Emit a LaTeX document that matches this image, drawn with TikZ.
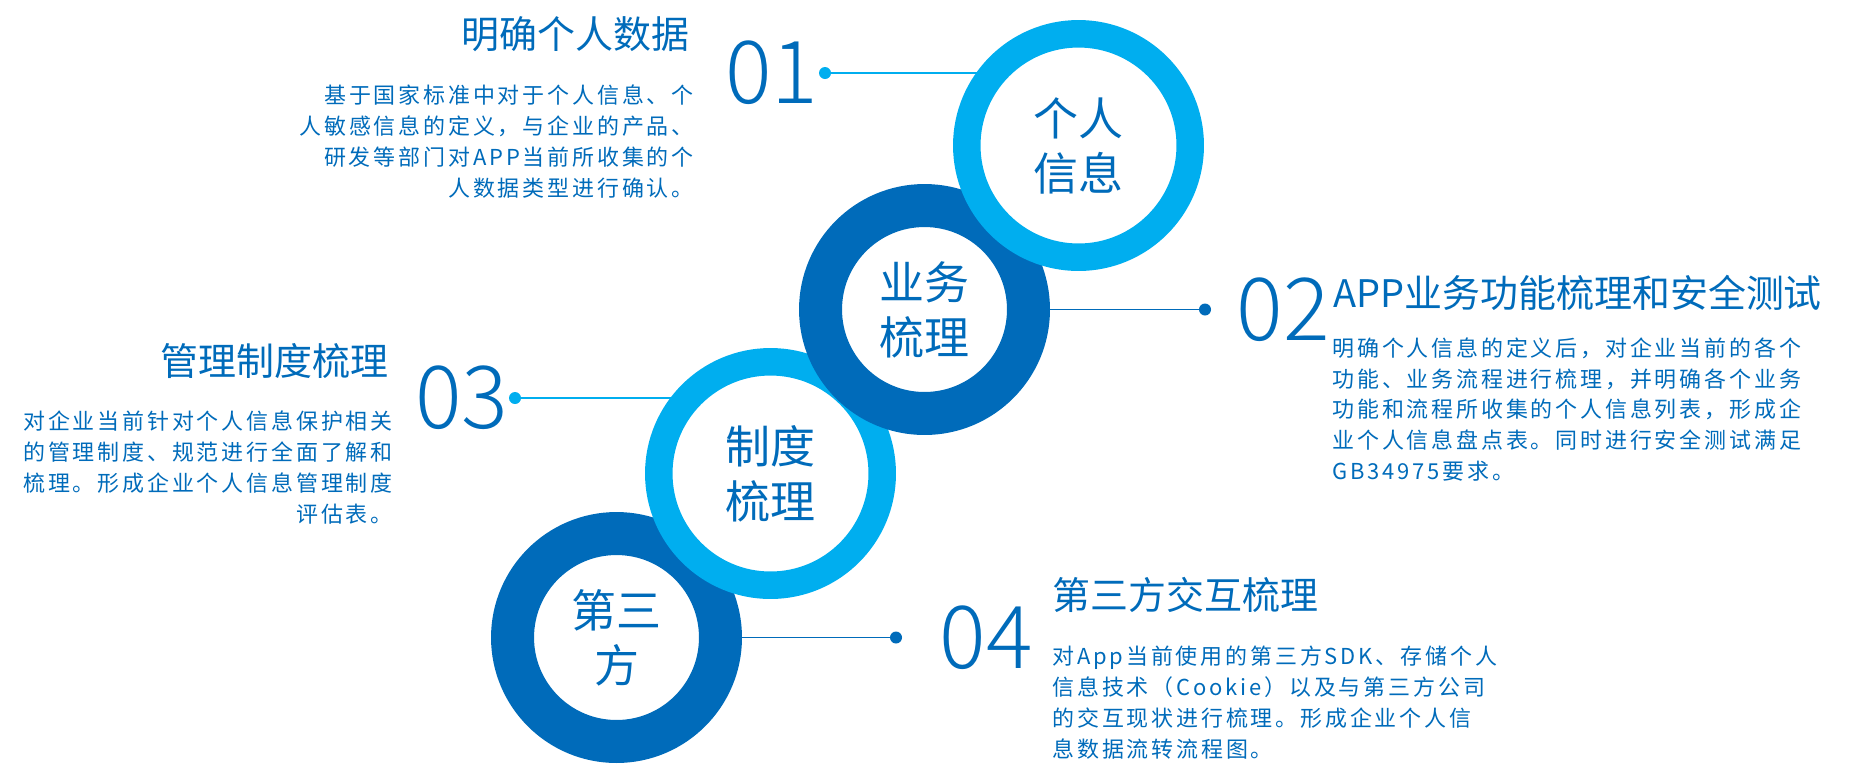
\documentclass[tikz,border=0pt]{standalone}
\usepackage{fontspec}
\setmainfont{Noto Sans CJK SC}
\newfontfamily\bodyfont{Noto Sans CJK SC}[LetterSpace=13]
\newfontfamily\numfont{Noto Sans CJK SC Light}
\usetikzlibrary{positioning,backgrounds}
\definecolor{lightblue}{RGB}{0,174,239}
\definecolor{darkblue}{RGB}{0,107,186}

\begin{document}
\begin{tikzpicture}[
      x=0.02cm, y=0.02cm,
      ringL/.style={circle, draw=lightblue, line width=0.55cm, minimum size=4.47cm, inner sep=0pt, align=center, text=darkblue, font=\fontsize{25.6}{31.3}\selectfont},
      ringD/.style={circle, draw=darkblue, line width=0.86cm, minimum size=4.16cm, inner sep=0pt, align=center, text=darkblue, font=\fontsize{25.6}{31.3}\selectfont},
      dotL/.style={circle, fill=lightblue, minimum size=0.24cm, inner sep=0pt},
      dotD/.style={circle, fill=darkblue, minimum size=0.24cm, inner sep=0pt},
      numlabel/.style={inner sep=0pt, text=darkblue, font=\numfont\fontsize{49.5}{50}\selectfont},
      headline/.style={inner sep=0pt, text=darkblue, font=\fontsize{21.6}{26}\selectfont},
      bodytext/.style={inner sep=0pt, text=darkblue, font=\bodyfont\fontsize{12.5}{17.6}\selectfont},
      linkL/.style={draw=lightblue, line width=1.1pt},
      linkD/.style={draw=darkblue, line width=1.1pt}
    ]
    \useasboundingbox (0,0) rectangle (1855,-779);

    \node[ringD] (ring4) at (616.5,-637.5) {第三\\方};
    \node[ringL] (ring3) at (770.5,-473.5) {制度\\梳理};
    \node[ringD] (ring2) at (924.5,-309.5) {业务\\梳理};
    \node[ringL] (ring1) at (1078.5,-145.5) {个人\\信息};

    \node[dotL] (dot01) at (825,-73) {};
    \node[dotD] (dot02) at (1205,-309.5) {};
    \node[dotL] (dot03) at (515,-398) {};
    \node[dotD] (dot04) at (896,-637.5) {};

    \node[numlabel, left=0pt of dot01] (num01) {01};
    \node[numlabel, right=0.5cm of dot02] (num02) {02};
    \node[numlabel, left=0pt of dot03] (num03) {03};
    \node[numlabel, right=0.74cm of dot04] (num04) {04};

    \node[headline, anchor=east] (head01) at (690,-34) {明确个人数据};
    \node[bodytext, anchor=east, align=right] (body01) at (694,-141.5) {基于国家标准中对于个人信息、个\\人敏感信息的定义，与企业的产品、\\研发等部门对APP当前所收集的个\\人数据类型进行确认。};

    \node[headline, anchor=west] (head02) at (1333,-293) {APP业务功能梳理和安全测试};
    \node[bodytext, anchor=west, align=left] (body02) at (1332,-409.5) {明确个人信息的定义后，对企业当前的各个\\功能、业务流程进行梳理，并明确各个业务\\功能和流程所收集的个人信息列表，形成企\\业个人信息盘点表。同时进行安全测试满足\\GB34975要求。};

    \node[headline, anchor=east] (head03) at (389,-361) {管理制度梳理};
    \node[bodytext, anchor=east, align=right] (body03) at (393,-467.5) {对企业当前针对个人信息保护相关\\的管理制度、规范进行全面了解和\\梳理。形成企业个人信息管理制度\\评估表。};

    \node[headline, anchor=west] (head04) at (1052,-595) {第三方交互梳理};
    \node[bodytext, anchor=west, align=left] (body04) at (1052,-702.5) {对App当前使用的第三方SDK、存储个人\\信息技术（Cookie）以及与第三方公司\\的交互现状进行梳理。形成企业个人信\\息数据流转流程图。};

    \begin{scope}[on background layer]
      \draw[linkL] (dot01) -- (dot01 -| ring1.140);
      \draw[linkD] (ring2) -- (dot02);
      \draw[linkL] (dot03) -- (dot03 -| ring3.137);
      \draw[linkD] (ring4) -- (dot04);
    \end{scope}
  \end{tikzpicture}
\end{document}
